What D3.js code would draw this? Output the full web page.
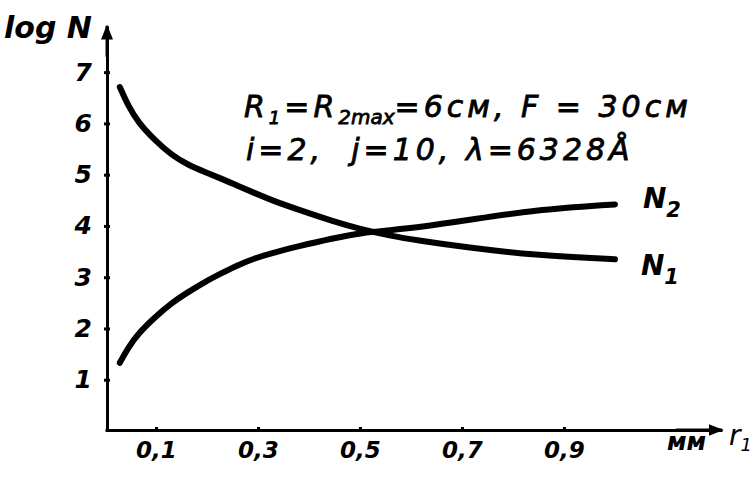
<!DOCTYPE html>
<html><head><meta charset="utf-8">
<script src="https://cdn.jsdelivr.net/npm/d3@7"></script>
<style>
html,body{margin:0;padding:0;background:#fff;}
svg text{font-family:"DejaVu Sans",sans-serif;font-style:italic;font-weight:bold;fill:#000;}
</style></head>
<body>
<svg id="c" width="754" height="477"></svg>
<script>
// data
const rValues = [0.029, 0.045, 0.065, 0.098, 0.131, 0.163, 0.196, 0.229, 0.261, 0.294, 0.327, 0.378, 0.447, 0.50, 0.559, 0.612, 0.71, 0.84, 1.00];
const logN1  = [6.71, 6.35, 6.02, 5.67, 5.38, 5.19, 5.05, 4.92, 4.78, 4.64, 4.50, 4.32, 4.09, 3.94, 3.81, 3.72, 3.58, 3.43, 3.35];
const logN2  = [1.33, 1.62, 1.90, 2.22, 2.50, 2.71, 2.91, 3.08, 3.24, 3.37, 3.47, 3.60, 3.76, 3.86, 3.92, 3.97, 4.11, 4.31, 4.42];
const xTicks = [0.1, 0.3, 0.5, 0.7, 0.9];
const xTickLabels = ["0,1", "0,3", "0,5", "0,7", "0,9"];
const yTicks = [1, 2, 3, 4, 5, 6, 7];
const seriesNames = ["N1", "N2"];

const svg = d3.select("#c");
const x = d3.scaleLinear().domain([0, 1.21]).range([105, 722]);
const y = d3.scaleLinear().domain([0, 7.9]).range([431, 26]);

// arrow marker
svg.append("defs").append("marker")
  .attr("id", "arr").attr("viewBox", "0 0 10 10").attr("refX", 9).attr("refY", 5)
  .attr("markerWidth", 5).attr("markerHeight", 6).attr("orient", "auto")
  .append("path").attr("d", "M0,1 L10,5 L0,9 Z").attr("fill", "#000");

// y axis
const yAxis = svg.append("g").attr("transform", `translate(${x(0)+2},0)`)
  .call(d3.axisLeft(y).tickValues(yTicks).tickSize(3).tickPadding(12).tickSizeOuter(0));
yAxis.select(".domain").attr("stroke-width", 3);
yAxis.selectAll(".tick line").attr("stroke-width", 3).attr("x2", 3).attr("x1", -3);
yAxis.selectAll(".tick text").style("font-size", "25px").attr("font-family", null);

// x axis
const xAxis = svg.append("g").attr("transform", `translate(0,${y(0)-1})`)
  .call(d3.axisBottom(x).tickValues(xTicks).tickFormat((d, i) => xTickLabels[i]).tickSize(3).tickPadding(9).tickSizeOuter(0));
xAxis.select(".domain").attr("stroke-width", 3);
xAxis.selectAll(".tick line").attr("stroke-width", 3).attr("y1", -3).attr("y2", 2);
xAxis.selectAll(".tick text").style("font-size", "23px").attr("font-family", null);

// arrowheads on the axis ends
svg.append("line").attr("x1", x(0)+2).attr("x2", x(0)+2).attr("y1", y(7.3)).attr("y2", y(7.9))
  .attr("stroke", "#000").attr("stroke-width", 3).attr("marker-end", "url(#arr)");
svg.append("line").attr("x1", x(1.12)).attr("x2", x(1.21)).attr("y1", y(0)-1).attr("y2", y(0)-1)
  .attr("stroke", "#000").attr("stroke-width", 3).attr("marker-end", "url(#arr)");

// curves
const line = d3.line().x((d, i) => x(rValues[i])).y(d => y(d)).curve(d3.curveBasis);
[logN1, logN2].forEach((s, k) => {
  svg.append("path").attr("d", line(s)).attr("fill", "none").attr("stroke", "#000")
    .attr("stroke-width", 6).attr("stroke-linecap", "round").attr("stroke-linejoin", "round")
    .attr("class", "series-" + seriesNames[k]);
});

// series labels
const lab = (t, sub, xx, yy, fs) => {
  const tx = svg.append("text").attr("x", xx).attr("y", yy).style("font-size", fs + "px");
  tx.append("tspan").text(t);
  tx.append("tspan").attr("dy", 9).style("font-size", (fs*0.75) + "px").text(sub);
};
lab("N", "1", x(1.0) + 26, y(logN1[logN1.length-1]) + 16, 28);
lab("N", "2", x(1.0) + 28, y(logN2[logN2.length-1]) + 4, 28);

// axis titles
svg.append("text").attr("x", 4).attr("y", 38).style("font-size", "30px").text("log N");
svg.append("text").attr("x", 667).attr("y", 450).style("font-size", "24px").text("мм");
const r1 = svg.append("text").attr("x", 729).attr("y", 445).style("font-size", "28px").style("font-weight", "normal");
r1.append("tspan").text("r");
r1.append("tspan").attr("dy", 6).style("font-size", "18px").text("1");

// annotation
const a1 = svg.append("text").attr("x", 244).attr("y", 117).style("font-size", "30px")
  .style("font-weight", "normal").style("letter-spacing", "4px").style("stroke", "#000").style("stroke-width", "0.8px");
a1.append("tspan").text("R");
a1.append("tspan").attr("dy", 7).style("font-size", "18px").text("1");
a1.append("tspan").attr("dy", -7).text("=R");
a1.append("tspan").attr("dy", 7).style("font-size", "20px").style("letter-spacing", "0px").text("2max");
a1.append("tspan").attr("dy", -7).text("=6см,  F = 30см");
svg.append("text").attr("x", 246).attr("y", 160).style("font-size", "30px").style("font-weight", "normal")
  .style("letter-spacing", "4px").style("stroke", "#000").style("stroke-width", "0.8px")
  .attr("xml:space", "preserve").style("white-space", "pre")
  .text("i=2,  j=10, λ=6328Å");
</script>
</body></html>
